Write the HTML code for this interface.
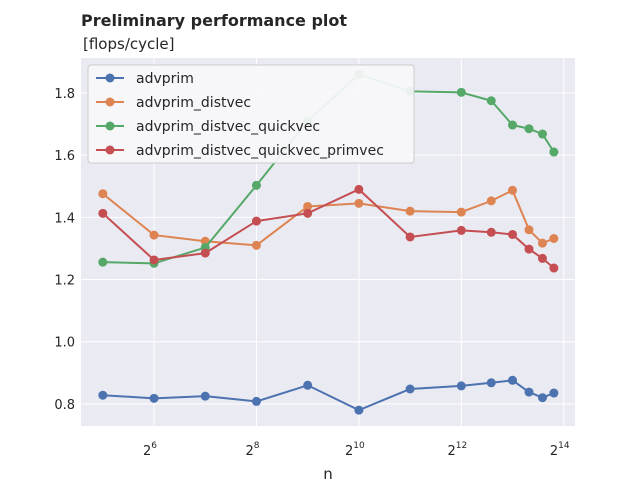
<!DOCTYPE html>
<html><head><meta charset="utf-8"><style>
body{margin:0;background:#fff;font-family:"Liberation Sans","DejaVu Sans",sans-serif}
</style></head><body>
<svg id="chart" width="640" height="480" xmlns="http://www.w3.org/2000/svg" font-family="DejaVu Sans, Liberation Sans, sans-serif">
<rect width="640" height="480" fill="#fff"/>
<text x="81" y="26" font-size="16" font-weight="bold" fill="#262626">Preliminary performance plot</text>
<text x="83" y="49" font-size="15" fill="#262626">[flops/cycle]</text>
<rect x="81" y="58" width="494" height="368" fill="#EAEAF2"/>
<g id="grid"></g><g id="series"></g><g id="legend"></g><g id="ticks"></g>
<text x="328" y="479" font-size="15" text-anchor="middle" fill="#262626">n</text>
</svg>
<script>
const nValues=[32,64,128,256,512,1024,2048,4096,6144,8192,10240,12288,14336];
const seriesNames=["advprim","advprim_distvec","advprim_distvec_quickvec","advprim_distvec_quickvec_primvec"];
const advprim=[0.828,0.818,0.825,0.808,0.86,0.78,0.848,0.858,0.868,0.876,0.838,0.82,0.835];
const distvec=[1.476,1.343,1.323,1.31,1.435,1.445,1.42,1.417,1.453,1.487,1.36,1.317,1.332];
const quickvec=[1.256,1.252,1.303,1.503,1.71,1.86,1.805,1.802,1.775,1.697,1.685,1.668,1.61];
const primvec=[1.413,1.263,1.285,1.388,1.413,1.49,1.337,1.358,1.352,1.345,1.298,1.268,1.237];
const yTicks=[0.8,1.0,1.2,1.4,1.6,1.8];
const xTickExp=[6,8,10,12,14];
const colors=["#4C72B0","#DD8452","#55A868","#C44E52"];
const NS="http://www.w3.org/2000/svg";
const X0=81,X1=575,Y0=58,Y1=426,lmin=4.574,lmax=14.22,vmin=0.729,vmax=1.9125;
const xs=n=>X0+(Math.log2(n)-lmin)/(lmax-lmin)*(X1-X0);
const ys=v=>Y1-(v-vmin)/(vmax-vmin)*(Y1-Y0);
function mk(t,a,p){const e=document.createElementNS(NS,t);for(const k in a)e.setAttribute(k,a[k]);p.appendChild(e);return e;}
const grid=document.getElementById('grid'),ticks=document.getElementById('ticks');
yTicks.forEach(v=>{const y=ys(v);
 const l=mk('line',{x1:X0,x2:X1,y1:y,y2:y,stroke:'#fff','stroke-width':1},grid);
 
 const t=mk('text',{x:X0-6,y:y+5,'font-size':13,'text-anchor':'end',fill:'#262626'},ticks);
 
 t.textContent=v.toFixed(1);});
xTickExp.forEach(e=>{const x=xs(Math.pow(2,e));
 const l=mk('line',{x1:x,x2:x,y1:Y0,y2:Y1,stroke:'#fff','stroke-width':1},grid);
 
 const t=mk('text',{x:x-4,y:Y1+29,'font-size':13,'text-anchor':'middle',fill:'#262626'},ticks);
 
 t.textContent='2';
 const s=mk('tspan',{dy:-7,'font-size':9},t);s.textContent=e;});
const sg=document.getElementById('series');
[advprim,distvec,quickvec,primvec].forEach((d,i)=>{
 const g=mk('g',{},sg);
 const pl=mk('polyline',{points:d.map((v,j)=>xs(nValues[j])+','+ys(v)).join(' '),fill:'none',stroke:colors[i],'stroke-width':2},g);
 
 d.forEach((v,j)=>{const c=mk('circle',{cx:xs(nValues[j]),cy:ys(v),r:4.5,fill:colors[i]},g);
  });});
const lg=document.getElementById('legend');

mk('rect',{x:88,y:65,width:326,height:98,rx:3,fill:'rgba(234,234,242,0.8)',stroke:'#ccc','stroke-width':1},lg);
mk('rect',{x:88.5,y:65.5,width:325,height:97,rx:3,fill:'rgba(255,255,255,0.6)',stroke:'none'},lg);
seriesNames.forEach((n,i)=>{const y=78+i*24;
 const g=mk('g',{},lg);
 mk('line',{x1:96,x2:124,y1:y,y2:y,stroke:colors[i],'stroke-width':2},g);
 mk('circle',{cx:110,cy:y,r:4.5,fill:colors[i]},g);
 const t=mk('text',{x:136,y:y+5,'font-size':14,fill:'#262626'},g);t.textContent=n;});
</script>
</body></html>
